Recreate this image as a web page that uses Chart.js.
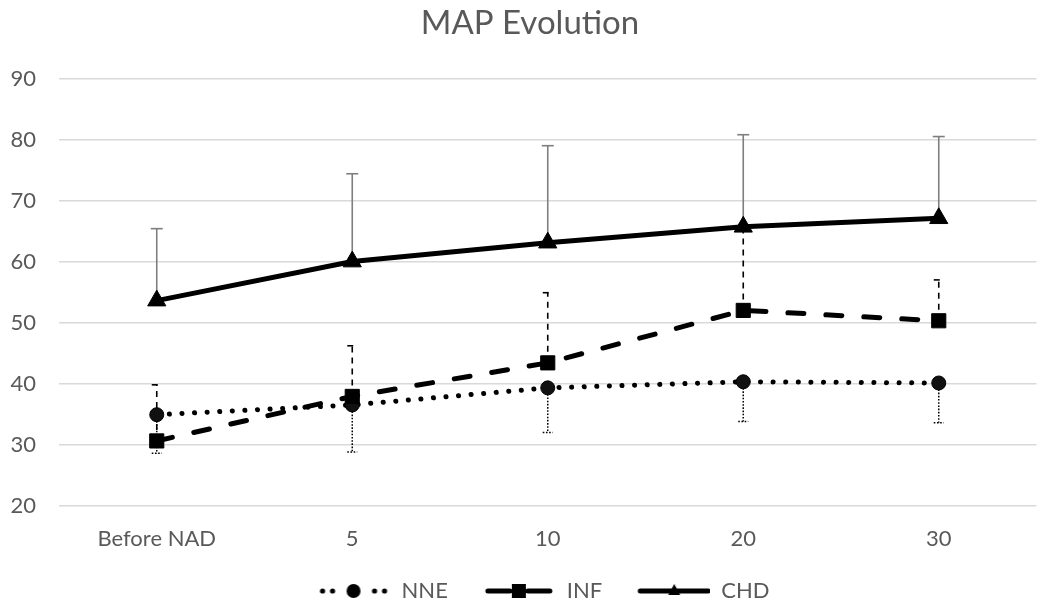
<!DOCTYPE html>
<html>
<head>
<meta charset="utf-8">
<script src="https://cdn.jsdelivr.net/npm/chart.js@4.4.1/dist/chart.umd.min.js"></script>
<style>
    html, body { margin: 0; padding: 0; background: #fff; }
    #wrap { width: 1048px; height: 612px; }
</style>
</head>
<body>
<div id="wrap"><canvas id="chart"></canvas></div>
<script>
// categories and values
const timePoints = ['Before NAD', '5', '10', '20', '30'];
const nneMean = [34.9, 36.5, 39.3, 40.3, 40.1];
const nneSd = [6.3, 7.7, 7.3, 6.5, 6.5];
const infMean = [30.6, 37.9, 43.4, 52.0, 50.3];
const infSd = [9.2, 8.3, 11.5, 13.6, 6.7];
const chdMean = [53.6, 60.0, 63.1, 65.7, 67.1];
const chdSd = [11.8, 14.4, 15.9, 15.1, 13.4];

const textColor = '#595959';
const fontFamily = 'Lato, "Open Sans", sans-serif';

// small canvases used as legend symbols (line style + marker)
function makeIcon(kind) {
    const c = document.createElement('canvas');
    c.width = 100;
    c.height = 24;
    const ctx = c.getContext('2d');
    ctx.fillStyle = '#000';
    ctx.strokeStyle = '#000';
    ctx.lineWidth = 5;
    ctx.lineCap = 'round';
    ctx.translate(28, 0);
    const y = 12;
    if (kind == 'NNE') {
        [4, 14, 56, 66].forEach(x => {
            ctx.beginPath();
            ctx.arc(x, y, 2.6, 0, Math.PI * 2);
            ctx.fill();
        });
        ctx.beginPath();
        ctx.arc(35, y, 7, 0, Math.PI * 2);
        ctx.fill();
    } else if (kind == 'INF') {
        ctx.beginPath();
        ctx.moveTo(4, y);
        ctx.lineTo(26, y);
        ctx.moveTo(44, y);
        ctx.lineTo(66, y);
        ctx.stroke();
        ctx.fillRect(28, y - 7, 14, 14);
    } else {
        ctx.beginPath();
        ctx.moveTo(2, y);
        ctx.lineTo(70, y);
        ctx.stroke();
        ctx.beginPath();
        ctx.moveTo(36, y - 7);
        ctx.lineTo(42, y + 4);
        ctx.lineTo(30, y + 4);
        ctx.closePath();
        ctx.fill();
    }
    return c;
}
const legendIcons = [makeIcon('NNE'), makeIcon('INF'), makeIcon('CHD')];

// error bars: CHD and INF shown upwards, NNE downwards (as in the original)
const barStyles = [
    { mean: nneMean, sd: nneSd, dir: -1, color: '#000', width: 1.5, dash: [1.6, 1.6], cap: 5 },
    { mean: infMean, sd: infSd, dir: 1, color: '#000', width: 1.6, dash: [6, 5], cap: 5 },
    { mean: chdMean, sd: chdSd, dir: 1, color: '#7f7f7f', width: 1.6, dash: [], cap: 6 }
];

const errorBarPlugin = {
    id: 'sdBars',
    beforeDatasetsDraw(chart) {
        const ctx = chart.ctx;
        const xs = chart.scales.x;
        const ys = chart.scales.y;
        ctx.save();
        barStyles.forEach(eb => {
            ctx.strokeStyle = eb.color;
            ctx.lineWidth = eb.width;
            eb.mean.forEach((m, i) => {
                const x = xs.getPixelForValue(i);
                const y0 = ys.getPixelForValue(m);
                const y1 = ys.getPixelForValue(m + eb.dir * eb.sd[i]);
                ctx.setLineDash(eb.dash);
                ctx.beginPath();
                ctx.moveTo(x, y0);
                ctx.lineTo(x, y1);
                ctx.stroke();
                ctx.beginPath();
                ctx.moveTo(x - eb.cap, y1);
                ctx.lineTo(x + eb.cap, y1);
                ctx.stroke();
            });
        });
        ctx.restore();
    }
};

new Chart(document.getElementById('chart'), {
    type: 'line',
    data: {
        labels: timePoints,
        datasets: [{
            label: 'NNE',
            data: nneMean,
            order: 3,
            borderColor: '#000',
            backgroundColor: '#000',
            borderWidth: 5,
            borderDash: [0.1, 12.5],
            borderCapStyle: 'round',
            pointStyle: 'circle',
            pointRadius: 7,
            pointBorderWidth: 1,
            pointBackgroundColor: '#111',
            pointBorderColor: '#000'
        }, {
            label: 'INF',
            data: infMean,
            order: 2,
            borderColor: '#000',
            backgroundColor: '#000',
            borderWidth: 5,
            borderDash: [16, 22],
            borderCapStyle: 'round',
            pointStyle: 'rect',
            pointRadius: 10,
            pointBorderWidth: 1,
            pointBackgroundColor: '#000',
            pointBorderColor: '#000'
        }, {
            label: 'CHD',
            data: chdMean,
            order: 1,
            borderColor: '#000',
            backgroundColor: '#000',
            borderWidth: 5,
            pointStyle: 'triangle',
            pointRadius: 10.5,
            pointBorderWidth: 1,
            pointBackgroundColor: '#000',
            pointBorderColor: '#000'
        }]
    },
    plugins: [errorBarPlugin],
    options: {
        responsive: true,
        maintainAspectRatio: false,
        animation: false,
        layout: {
            padding: { left: 0, right: -12, top: 0, bottom: 0 }
        },
        scales: {
            x: {
                offset: true,
                grid: { display: false, drawTicks: false },
                border: { display: false },
                ticks: {
                    color: textColor,
                    padding: 20,
                    maxRotation: 0,
                    font: { family: fontFamily, size: 22 }
                }
            },
            y: {
                min: 20,
                max: 90,
                afterFit(scale) {
                    scale.width = 59;
                },
                grid: { color: '#d9d9d9', lineWidth: 1.5, drawTicks: false },
                border: { display: false },
                ticks: {
                    stepSize: 10,
                    color: textColor,
                    padding: 23,
                    font: { family: fontFamily, size: 22 }
                }
            }
        },
        plugins: {
            title: {
                display: true,
                text: 'MAP Evolution',
                color: textColor,
                font: { family: fontFamily, size: 33, weight: 'normal' },
                padding: { top: 4, bottom: 35 }
            },
            legend: {
                position: 'bottom',
                labels: {
                    usePointStyle: true,
                    pointStyleWidth: 100,
                    padding: 8,
                    color: textColor,
                    font: { family: fontFamily, size: 22 },
                    sort: (a, b) => a.datasetIndex - b.datasetIndex,
                    generateLabels(chart) {
                        const items = Chart.defaults.plugins.legend.labels.generateLabels(chart);
                        items.forEach(item => {
                            item.pointStyle = legendIcons[item.datasetIndex];
                        });
                        return items;
                    }
                }
            },
            tooltip: { enabled: false }
        }
    }
});
</script>
</body>
</html>
